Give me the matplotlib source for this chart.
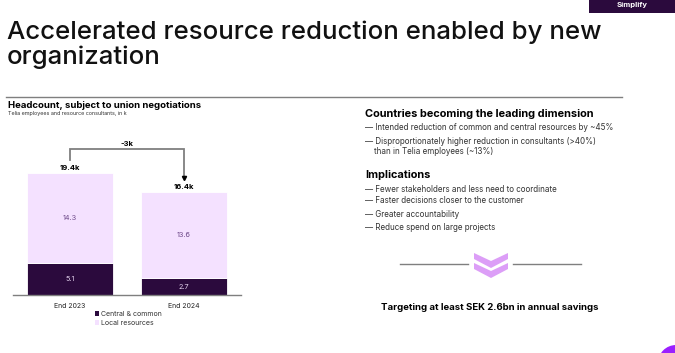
import matplotlib.pyplot as plt
from matplotlib.patches import Patch, Polygon, Rectangle, Ellipse

plt.rcParams['font.family'] = ['Inter', 'DejaVu Sans']

years = ['End 2023', 'End 2024']
central = [5.1, 2.7]
local = [14.3, 13.6]
totals = ['19.4k', '16.4k']
delta = '-3k'

dark = '#2b0a3d'
light = '#f4e1ff'
grey = '#7f7f7f'

W, H = 675, 353
fig = plt.figure(figsize=(W / 100, H / 100), dpi=100)


def fx(x):
    return x / W


def fy(y):
    return 1 - y / H


# header
fig.text(fx(7), fy(32), 'Accelerated resource reduction enabled by new', fontsize=18.6,
         weight='medium', va='center', color='#111111')
fig.text(fx(7), fy(57), 'organization', fontsize=18.6, weight='medium', va='center',
         color='#111111')

fig.patches.append(Rectangle((fx(589), fy(13)), fx(86), 13 / H, transform=fig.transFigure,
                             facecolor=dark, edgecolor='none'))
fig.text(fx(632), fy(5), 'Simplify', fontsize=5.5, color='white', weight='bold',
         ha='center', va='center')

fig.lines.append(plt.Line2D([fx(6), fx(622)], [fy(97), fy(97)], transform=fig.transFigure,
                            color=grey, lw=1))

fig.text(fx(8), fy(105), 'Headcount, subject to union negotiations', fontsize=6.9,
         weight='bold', va='center')
fig.text(fx(8), fy(114), 'Telia employees and resource consultants, in k', fontsize=3.9,
         va='center', color='#333333')

# bar chart
ax = fig.add_axes([fx(13), fy(295), 228 / W, 160 / H])
x = [0, 1]
ax.bar(x, central, width=0.754, color=dark, edgecolor='white', linewidth=0.6)
ax.bar(x, local, bottom=central, width=0.754, color=light, edgecolor='white', linewidth=0.6)
ax.set_xlim(-0.5, 1.5)
ax.set_ylim(0, 160 / 6.29)
for i in x:
    tot = central[i] + local[i]
    ax.text(i, central[i] / 2, f'{central[i]}', ha='center', va='center', fontsize=5.2,
            color='#e6d5f0')
    ax.text(i, central[i] + local[i] / 2, f'{local[i]}', ha='center', va='center',
            fontsize=5.2, color='#6e4a8a')
    ax.text(i, tot + 0.35, totals[i], ha='center', va='bottom', fontsize=5.5, weight='bold')

# -3k bracket
ytop = 23.2
ax.plot([0, 0, 1, 1], [21.5, ytop, ytop, 18.9], color=grey, lw=1.3, solid_joinstyle='miter')
ax.plot(1, 18.6, marker='v', color='black', markersize=3)
ax.text(0.5, ytop + 0.35, delta, ha='center', va='bottom', fontsize=5.5, weight='bold')

ax.set_xticks(x)
ax.set_xticklabels(years, fontsize=5, color='#222222')
ax.tick_params(axis='x', length=0, pad=6)
ax.set_yticks([])
for s in ['top', 'left', 'right']:
    ax.spines[s].set_visible(False)
ax.spines['bottom'].set_color(grey)
ax.spines['bottom'].set_linewidth(1)
ax.patch.set_alpha(0)

handles = [Patch(facecolor=dark, label='Central & common'),
           Patch(facecolor=light, label='Local resources')]
leg = fig.legend(handles=handles, loc='upper left', bbox_to_anchor=(fx(95), fy(311)),
                 frameon=False, fontsize=5, handlelength=0.6, handleheight=0.6,
                 handletextpad=0.3, labelspacing=0.45, borderpad=0, borderaxespad=0)
for t in leg.get_texts():
    t.set_color('#333333')

# right panel text
fig.text(fx(365), fy(114), 'Countries becoming the leading dimension', fontsize=7.9,
         weight='bold', va='center')
bullets1 = ['— Intended reduction of common and central resources by ~45%',
            '— Disproportionately higher reduction in consultants (>40%)',
            '    than in Telia employees (~13%)']
for yy, t in zip([128, 141, 151], bullets1):
    fig.text(fx(365), fy(yy), t, fontsize=5.8, va='center', color='#333333')

fig.text(fx(365), fy(175), 'Implications', fontsize=7.9, weight='bold', va='center')
bullets2 = ['— Fewer stakeholders and less need to coordinate',
            '— Faster decisions closer to the customer',
            '— Greater accountability',
            '— Reduce spend on large projects']
for yy, t in zip([189, 201, 214, 227], bullets2):
    fig.text(fx(365), fy(yy), t, fontsize=5.8, va='center', color='#333333')

# chevron divider
fig.lines.append(plt.Line2D([fx(400), fx(468)], [fy(264), fy(264)], transform=fig.transFigure,
                            color=grey, lw=1))
fig.lines.append(plt.Line2D([fx(513), fx(581)], [fy(264), fy(264)], transform=fig.transFigure,
                            color=grey, lw=1))
for dy in [0, 10]:
    pts = [(474, 253 + dy), (491, 261 + dy), (508, 253 + dy), (508, 259 + dy),
           (491, 268 + dy), (474, 259 + dy)]
    fig.patches.append(Polygon([(fx(a), fy(b)) for a, b in pts], closed=True,
                               transform=fig.transFigure, facecolor='#dc9ef7',
                               edgecolor='none'))

fig.text(fx(490), fy(307), 'Targeting at least SEK 2.6bn in annual savings', fontsize=6.9,
         weight='bold', ha='center', va='center')

fig.patches.append(Ellipse((fx(676), fy(363)), 36 / W, 36 / H, transform=fig.transFigure,
                           facecolor='#9b1fff', edgecolor='none'))

fig.savefig('out.png', dpi=100)
